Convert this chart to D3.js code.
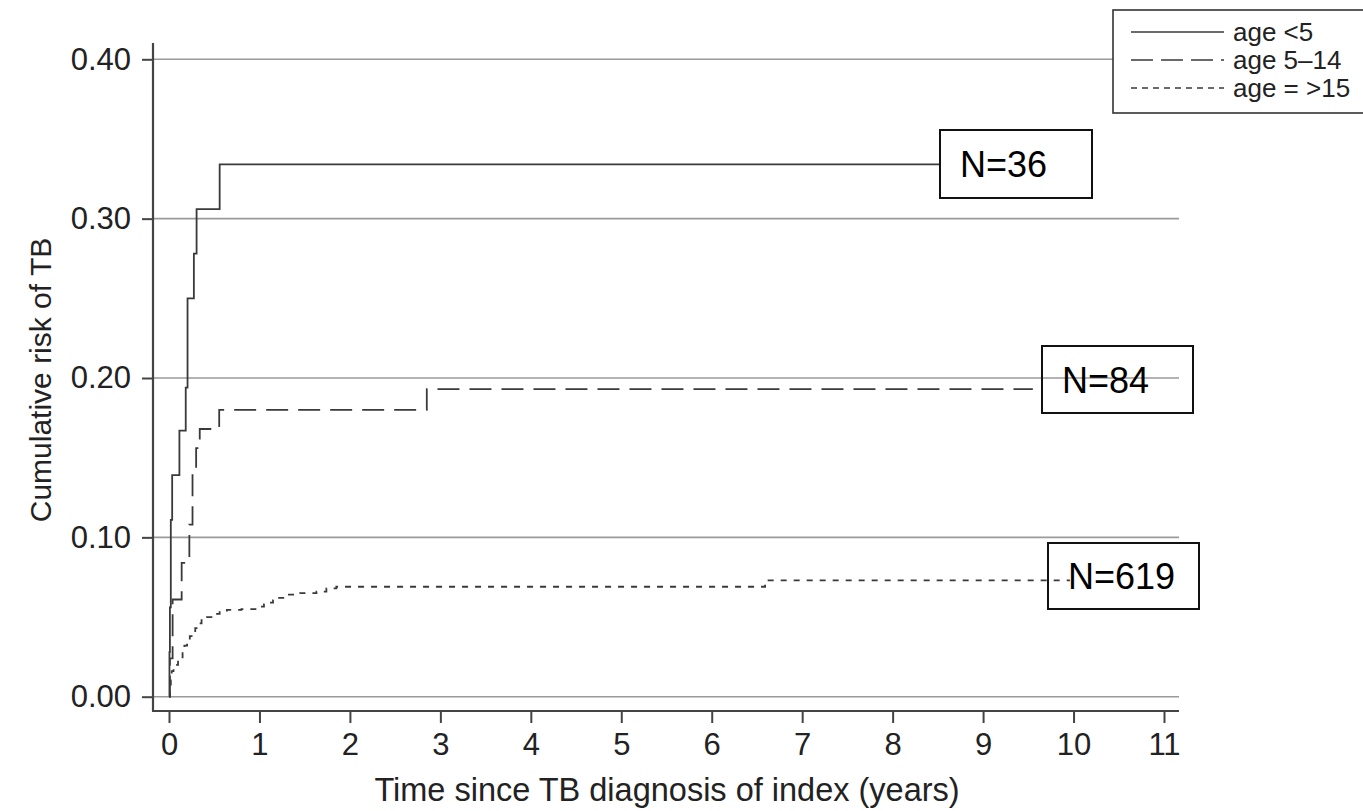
<!DOCTYPE html>
<html>
<head>
<meta charset="utf-8">
<script src="https://cdn.jsdelivr.net/npm/d3@7"></script>
<style>
  body { margin: 0; background: #fff; }
  svg { display: block; font-family: "Liberation Sans", Arial, sans-serif; }
</style>
</head>
<body>
<div id="chart"></div>
<script>
// data
var ageU5Time = [0, 0.005, 0.01, 0.02, 0.035, 0.115, 0.185, 0.205, 0.275, 0.305, 0.56, 8.52];
var ageU5Risk = [0, 0.028, 0.056, 0.111, 0.139, 0.167, 0.194, 0.25, 0.278, 0.306, 0.334, 0.334];

var age5to14Time = [0, 0.01, 0.04, 0.14, 0.225, 0.26, 0.30, 0.34, 0.555, 2.85, 9.55];
var age5to14Risk = [0, 0.024, 0.061, 0.084, 0.108, 0.142, 0.156, 0.168, 0.180, 0.193, 0.193];

var age15Time = [0, 0.01, 0.02, 0.03, 0.05, 0.07, 0.1, 0.12, 0.15, 0.17, 0.2, 0.23, 0.25, 0.29, 0.33, 0.36, 0.42, 0.48, 0.56, 0.64, 0.8, 0.97, 1.05, 1.1, 1.15, 1.2, 1.28, 1.45, 1.63, 1.74, 1.85, 6.59, 9.96];
var age15Risk = [0, 0.006, 0.011, 0.016, 0.018, 0.020, 0.022, 0.024, 0.028, 0.032, 0.035, 0.038, 0.040, 0.043, 0.046, 0.048, 0.050, 0.052, 0.054, 0.0545, 0.055, 0.0565, 0.058, 0.059, 0.0605, 0.062, 0.064, 0.065, 0.066, 0.068, 0.069, 0.073, 0.073];

var seriesNames = ["age <5", "age 5\u201314", "age = >15"];
var nLabels = ["N=36", "N=84", "N=619"];

var xTicks = [0, 1, 2, 3, 4, 5, 6, 7, 8, 9, 10, 11];
var yTicks = [0, 0.1, 0.2, 0.3, 0.4];

var svgWidth = 1363;
var svgHeight = 811;

var svg = d3.select("#chart")
  .append("svg")
  .attr("width", svgWidth)
  .attr("height", svgHeight);

// scales
var xScale = d3.scaleLinear().domain([0, 11]).range([169, 1164]);
var yScale = d3.scaleLinear().domain([0, 0.4]).range([696.7, 59.3]);

var axisColor = "#444";
var textColor = "#222";

// gridlines
svg.append("g")
  .selectAll("line")
  .data(yTicks)
  .enter()
  .append("line")
  .attr("x1", 153)
  .attr("x2", 1179)
  .attr("y1", d => yScale(d))
  .attr("y2", d => yScale(d))
  .attr("stroke", "#9a9a9a")
  .attr("stroke-width", 1.6);

// y axis
var yAxis = svg.append("g")
  .attr("transform", "translate(153,0)")
  .call(d3.axisLeft(yScale).tickValues(yTicks).tickFormat(d3.format(".2f")).tickSize(11).tickPadding(11));
yAxis.select(".domain").remove();
yAxis.selectAll(".tick line").attr("stroke", axisColor).attr("stroke-width", 2);
yAxis.selectAll(".tick text")
  .attr("fill", textColor)
  .style("font-size", "31px")
  .style("font-family", "'Liberation Sans', Arial, sans-serif");
yAxis.append("line")
  .attr("x1", 0).attr("x2", 0)
  .attr("y1", 43).attr("y2", 711)
  .attr("stroke", axisColor)
  .attr("stroke-width", 2.2);

// x axis
var xAxis = svg.append("g")
  .attr("transform", "translate(0,711)")
  .call(d3.axisBottom(xScale).tickValues(xTicks).tickFormat(d3.format("d")).tickSize(12).tickPadding(10));
xAxis.select(".domain").remove();
xAxis.selectAll(".tick line").attr("stroke", axisColor).attr("stroke-width", 2);
xAxis.selectAll(".tick text")
  .attr("fill", textColor)
  .style("font-size", "31px")
  .style("font-family", "'Liberation Sans', Arial, sans-serif");
xAxis.append("line")
  .attr("x1", 152).attr("x2", 1179)
  .attr("y1", 0).attr("y2", 0)
  .attr("stroke", axisColor)
  .attr("stroke-width", 2.2);

// axis titles
svg.append("text")
  .attr("transform", "translate(51,380) rotate(-90)")
  .attr("text-anchor", "middle")
  .attr("fill", textColor)
  .style("font-size", "30px")
  .text("Cumulative risk of TB");

svg.append("text")
  .attr("x", 667)
  .attr("y", 801)
  .attr("text-anchor", "middle")
  .attr("fill", textColor)
  .style("font-size", "32.5px")
  .text("Time since TB diagnosis of index (years)");

// curves
var line = d3.line()
  .x(d => xScale(d[0]))
  .y(d => yScale(d[1]))
  .curve(d3.curveStepAfter);

var curves = [
  { pts: d3.zip(ageU5Time, ageU5Risk), dash: null },
  { pts: d3.zip(age5to14Time, age5to14Risk), dash: "22,10" },
  { pts: d3.zip(age15Time, age15Risk), dash: "6,7" }
];

svg.append("g")
  .selectAll("path")
  .data(curves)
  .enter()
  .append("path")
  .attr("d", d => line(d.pts))
  .attr("fill", "none")
  .attr("stroke", "#3a3a3a")
  .attr("stroke-width", 1.8)
  .attr("stroke-dasharray", d => d.dash);

// N boxes
var nBoxes = [
  { x: 940, y: 130, w: 152, h: 68, fill: "#fff", tx: 960, ty: 177 },
  { x: 1042, y: 346, w: 151, h: 67, fill: "none", tx: 1062, ty: 393 },
  { x: 1048, y: 543, w: 151, h: 66, fill: "none", tx: 1068, ty: 589 }
];

var boxG = svg.append("g");
nBoxes.forEach(function(b, i) {
  boxG.append("rect")
    .attr("x", b.x).attr("y", b.y)
    .attr("width", b.w).attr("height", b.h)
    .attr("fill", b.fill)
    .attr("stroke", "#111")
    .attr("stroke-width", 2);
  boxG.append("text")
    .attr("x", b.tx).attr("y", b.ty)
    .attr("fill", "#000")
    .style("font-size", "36px")
    .text(nLabels[i]);
});

// legend
var legend = svg.append("g");
legend.append("rect")
  .attr("x", 1113).attr("y", 10)
  .attr("width", 300).attr("height", 103)
  .attr("fill", "#fff")
  .attr("stroke", "#333")
  .attr("stroke-width", 1.6);

var legendDash = [null, "22,8", "6,5"];
seriesNames.forEach(function(name, i) {
  var ly = 32 + i * 28;
  legend.append("line")
    .attr("x1", 1131).attr("x2", 1224)
    .attr("y1", ly).attr("y2", ly)
    .attr("stroke", "#3a3a3a")
    .attr("stroke-width", 1.6)
    .attr("stroke-dasharray", legendDash[i]);
  legend.append("text")
    .attr("x", 1233).attr("y", ly + 9)
    .attr("fill", textColor)
    .style("font-size", "26px")
    .text(name);
});
</script>
</body>
</html>
